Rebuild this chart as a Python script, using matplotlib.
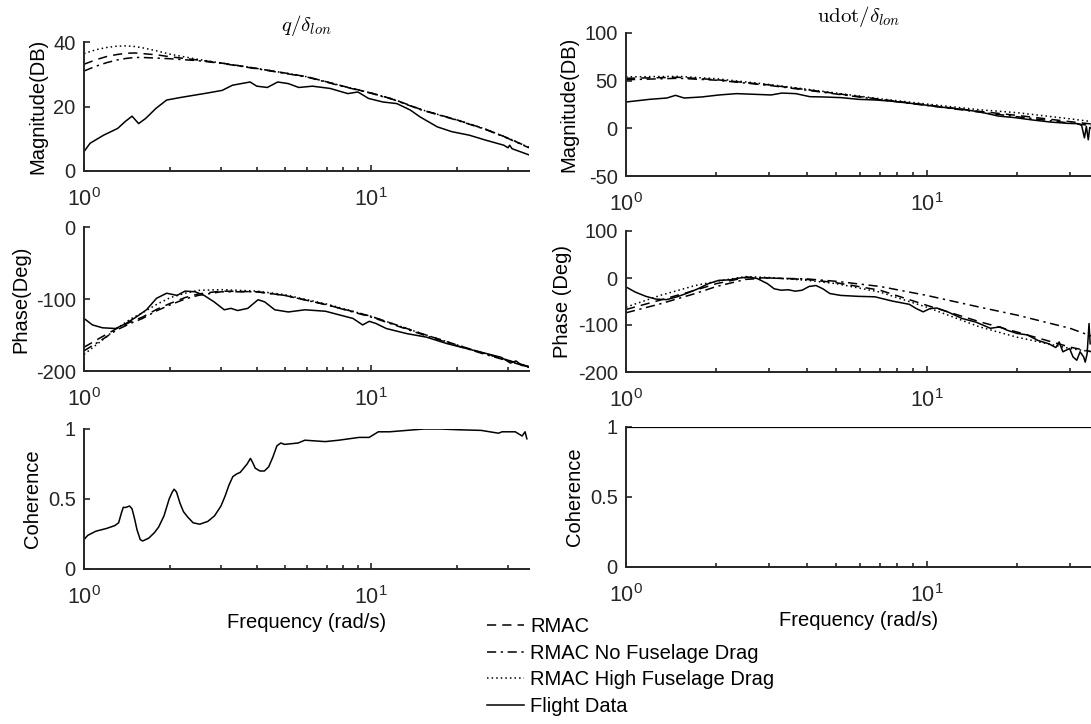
import numpy as np
import matplotlib
matplotlib.use('Agg')
import matplotlib.pyplot as plt
from matplotlib.lines import Line2D
from matplotlib.ticker import FuncFormatter

plt.rcParams['font.family'] = ['Liberation Sans', 'DejaVu Sans']
plt.rcParams['mathtext.fontset'] = 'cm'
plt.rcParams['axes.unicode_minus'] = False
plt.rcParams['font.size'] = 14.5

# ---------------- q / delta_lon ----------------
# model curves (magnitude, dB)
q_mag_f = [1, 1.1, 1.2, 1.3, 1.4, 1.5, 1.6, 1.8, 2, 2.5, 3, 4, 5, 6, 8, 10, 12, 15, 20, 25, 30, 35.5]
q_mag_rmac = [33.1, 34.5, 35.5, 36.1, 36.5, 36.6, 36.4, 36.0, 35.4, 34.4, 33.5, 31.8, 30.4, 29.2, 26.3, 24.2, 22.2, 19.0, 15.8, 13.0, 10.2, 7.3]
q_mag_nofus = [31.0, 32.5, 33.6, 34.4, 34.9, 35.2, 35.2, 35.0, 34.8, 34.2, 33.4, 31.7, 30.3, 29.1, 26.2, 24.1, 22.1, 18.9, 15.7, 12.9, 10.1, 7.2]
q_mag_hifus = [36.4, 37.6, 38.3, 38.7, 38.8, 38.6, 38.2, 37.2, 36.2, 34.6, 33.5, 31.8, 30.4, 29.2, 26.3, 24.2, 22.2, 19.0, 15.8, 13.0, 10.2, 7.3]
# flight data magnitude
q_fd_mag_f = [1.0, 1.05, 1.17, 1.31, 1.39, 1.47, 1.55, 1.64, 1.78, 1.94, 2.17, 2.42, 2.7, 3.03, 3.29, 3.79,
              4.0, 4.35, 4.73, 5.15, 5.6, 6.25, 7.2, 8.3, 9.0, 9.8, 11, 12.3, 13.7, 14.8, 17, 19.1, 22, 25,
              29, 30, 30.4, 31, 35.5]
q_fd_mag = [6, 8.6, 11.1, 13.2, 15.3, 17, 14.7, 16.3, 19.4, 22, 22.8, 23.5, 24.2, 25, 26.6, 27.6,
            26.3, 25.9, 27.6, 27.1, 25.9, 26.3, 25.6, 24, 24.5, 22.5, 21.4, 20.9, 18.9, 16.8, 13.7, 12.2, 11.1, 9.6,
            8.0, 7.2, 8.0, 6.9, 5.0]

# model curves (phase, deg)
q_ph_f = [1, 1.15, 1.3, 1.45, 1.6, 1.8, 2, 2.25, 2.5, 3, 4, 5, 7, 10, 15, 20, 25, 30, 35.5]
q_ph_rmac = [-167, -153, -141, -132, -125, -114, -106, -98, -93, -89, -90, -95, -108, -124, -148, -164, -176, -185, -194]
q_ph_nofus = [-172, -157, -143, -134, -127, -116, -108, -100, -95, -90, -90, -95, -108, -125, -149, -165, -177, -186, -195]
q_ph_hifus = [-177, -158, -141, -128, -119, -107, -98, -92, -88, -87, -89, -94, -107, -124, -148, -164, -176, -185, -194]
# flight data phase
q_fd_ph_f = [1.0, 1.07, 1.16, 1.29, 1.40, 1.52, 1.65, 1.79, 1.94, 2.11, 2.25, 2.44, 2.62, 2.84, 3.08, 3.25,
             3.43, 3.72, 4.04, 4.26, 4.62, 5.15, 5.89, 6.94, 7.74, 8.65, 9.35, 9.86, 10.4, 11.3, 13.3, 15.6,
             18.4, 21.6, 24.8, 28.4, 29.5, 30.6, 32.0, 33.4, 35.2]
q_fd_ph = [-127, -136, -140, -141, -134, -125, -115, -99, -92, -95, -89, -90, -95, -104, -115, -113,
           -116, -113, -101, -104, -115, -118, -115, -117, -122, -127, -136, -131, -134, -141, -148, -153,
           -162, -169, -175, -181, -185, -189, -186, -192, -194]

# coherence
q_coh_f = [1.0, 1.03, 1.1, 1.2, 1.28, 1.32, 1.35, 1.37, 1.40, 1.44, 1.47, 1.50, 1.53, 1.57, 1.6, 1.68,
           1.76, 1.82, 1.9, 1.98, 2.03, 2.06, 2.10, 2.16, 2.22, 2.3, 2.4, 2.53, 2.7, 2.85, 3.0, 3.1,
           3.2, 3.3, 3.41, 3.5, 3.6, 3.7, 3.8, 3.87, 3.95, 4.1, 4.25, 4.4, 4.55, 4.7, 4.85, 5.0,
           5.571, 5.884, 6.924, 7.721, 9.089, 9.846, 10.6, 11.6, 13.3, 15.3, 17.5, 19.9, 24.2, 27.8, 28.6,
           31.8, 33.6, 34.4, 34.9]
q_coh = [0.21, 0.24, 0.27, 0.29, 0.31, 0.33, 0.40, 0.44, 0.44, 0.45, 0.43, 0.36, 0.28, 0.21, 0.20, 0.22,
         0.26, 0.30, 0.38, 0.50, 0.55, 0.57, 0.55, 0.47, 0.41, 0.37, 0.33, 0.32, 0.34, 0.38, 0.45, 0.52,
         0.60, 0.66, 0.68, 0.69, 0.72, 0.75, 0.79, 0.76, 0.72, 0.70, 0.70, 0.73, 0.80, 0.88, 0.90, 0.89,
         0.90, 0.92, 0.91, 0.92, 0.94, 0.94, 0.98, 0.98, 0.99, 1.0, 1.0, 0.995, 0.99, 0.97, 0.98,
         0.98, 0.95, 0.98, 0.93]

# ---------------- udot / delta_lon ----------------
u_mag_f = [1, 1.5, 2, 3, 4, 5, 7, 10, 15, 20, 30, 35.5]
u_mag_rmac = [52.5, 53.5, 51, 45.5, 40.5, 36.5, 30.5, 24.5, 17.8, 13.6, 7.0, 4.5]
u_mag_nofus = [51, 52.5, 50.5, 45, 40, 36, 30, 24, 17, 12.2, 5.5, 2.8]
u_mag_hifus = [54, 54.5, 52, 46, 41, 37, 31, 25.5, 19.5, 16.4, 10, 7]
u_fd_mag_f = [1.0, 1.196, 1.367, 1.461, 1.561, 1.785, 2.04, 2.33, 2.67, 3.04, 3.30, 3.67, 4.09, 4.55, 5.20,
              5.94, 6.79, 7.76, 8.87, 10.1, 11.6, 13.2, 15.1, 17.3, 19.7, 22.6, 25.8, 29.5, 31.9, 32.8,
              33.5, 34.0, 34.5, 34.9, 35.3]
u_fd_mag = [27.6, 30.4, 31.8, 34.6, 31.8, 32.9, 35, 36.4, 35.7, 35, 37, 36.4, 33.2, 32.9, 32.2,
            30.4, 29.7, 28.3, 26.2, 24.1, 21.7, 19.9, 17.1, 12.9, 11.2, 8.7, 6.6, 5.2, 4.9, 3.0,
            -10, 2, -12, 1, 0]

u_ph_f = [1, 1.3, 1.7, 2, 2.5, 3, 4, 5, 7, 10, 15, 20, 30, 35.5]
u_ph_rmac = [-67, -47, -26, -12, 1, 0, -3, -10, -26, -58, -93, -115, -147, -157]
u_ph_nofus = [-74, -55, -33, -18, -3, 0, -2, -7, -18, -37, -62, -79, -107, -124]
u_ph_hifus = [-62, -37, -16, -7, 3, 1, -5, -12, -30, -62, -104, -126, -150, -157]
u_fd_ph_f = [1.0, 1.074, 1.164, 1.260, 1.365, 1.479, 1.602, 1.735, 1.880, 2.036, 2.206, 2.389, 2.551,
             2.729, 2.954, 3.112, 3.285, 3.463, 3.656, 3.854, 4.064, 4.286, 4.519, 4.764, 5.171, 5.898,
             6.730, 7.678, 8.759, 9.236, 9.739, 10.27, 10.83, 11.75, 13.11, 14.61, 16.30, 17.56, 18.51,
             20.0, 21.6, 23.5, 25.5, 26.9, 27.6, 28.4, 29.9, 30.7, 31.6, 32.4, 33.3, 33.7, 34.2, 34.7, 35.0]
u_fd_ph = [-19, -30, -39, -45, -46, -40, -32, -23, -12, -5, -4, 0, 2,
           -1, -12, -23, -26, -25, -28, -26, -18, -16, -23, -33, -37, -39,
           -40, -49, -56, -65, -72, -65, -64, -72, -86, -94, -107, -104, -111,
           -118, -121, -133, -140, -148, -136, -157, -150, -168, -175, -157, -168, -179, -161, -97, -140]

u_coh_f = [1.0, 35.5]
u_coh = [1.0, 1.0]

labels = ['RMAC', 'RMAC No Fuselage Drag', 'RMAC High Fuselage Drag', 'Flight Data']

# line styles
ls_rmac = (0, (6, 4))
ls_nofus = (0, (6, 3, 1.5, 3))
ls_hifus = (0, (1, 2))
lw = 1.1
col = 'black'
axcol = '#262626'

W, H = 1091, 724
fig = plt.figure(figsize=(W / 100, H / 100), dpi=100)


def make_ax(x0, x1, top, bottom):
    return fig.add_axes([x0 / W, 1 - bottom / H, (x1 - x0) / W, (bottom - top) / H])


def style(ax, ylim, yticks):
    ax.set_xscale('log')
    ax.set_xlim(1, 35.5)
    ax.set_ylim(*ylim)
    ax.set_yticks(yticks)
    ax.yaxis.set_major_formatter(FuncFormatter(lambda v, p: '%g' % v))
    for s in ['top', 'right']:
        ax.spines[s].set_visible(False)
    for s in ['left', 'bottom']:
        ax.spines[s].set_linewidth(1.4)
        ax.spines[s].set_color(axcol)
    ax.tick_params(which='both', direction='in', colors=axcol, labelsize=14.5, width=1.2)
    ax.tick_params(which='major', length=4, pad=6)
    ax.tick_params(which='minor', length=3)
    ax.tick_params(axis='x', which='major', labelsize=15.5, pad=12)
    ax.tick_params(axis='y', which='minor', left=False)


def models(ax, f, a, b, c):
    ax.plot(f, a, color=col, lw=lw, linestyle=ls_rmac)
    ax.plot(f, b, color=col, lw=lw, linestyle=ls_nofus)
    ax.plot(f, c, color=col, lw=lw, linestyle=ls_hifus)


L0, L1 = 84, 529
R0, R1 = 626, 1092

# left column
ax = make_ax(L0, L1, 42, 171)
models(ax, q_mag_f, q_mag_rmac, q_mag_nofus, q_mag_hifus)
ax.plot(q_fd_mag_f, q_fd_mag, color=col, lw=lw)
style(ax, (0, 40), [0, 20, 40])
ax.set_ylabel('Magnitude(DB)', labelpad=4)
ax.set_title(r'$q/\delta_{lon}$', fontsize=15, pad=8)

ax = make_ax(L0, L1, 227, 371)
models(ax, q_ph_f, q_ph_rmac, q_ph_nofus, q_ph_hifus)
ax.plot(q_fd_ph_f, q_fd_ph, color=col, lw=lw)
style(ax, (-200, 0), [-200, -100, 0])
ax.set_ylabel('Phase(Deg)', labelpad=4)

ax = make_ax(L0, L1, 429, 569)
ax.plot(q_coh_f, q_coh, color=col, lw=lw)
style(ax, (0, 1), [0, 0.5, 1])
ax.set_ylabel('Coherence', labelpad=4)
ax.set_xlabel('Frequency (rad/s)', labelpad=3)

# right column
ax = make_ax(R0, R1, 33, 176)
models(ax, u_mag_f, u_mag_rmac, u_mag_nofus, u_mag_hifus)
ax.plot(u_fd_mag_f, u_fd_mag, color=col, lw=lw)
style(ax, (-50, 100), [-50, 0, 50, 100])
ax.set_ylabel('Magnitude(DB)', labelpad=4)
ax.set_title(r'$\mathrm{udot}/\delta_{lon}$', fontsize=15, pad=8)

ax = make_ax(R0, R1, 231, 372)
models(ax, u_ph_f, u_ph_rmac, u_ph_nofus, u_ph_hifus)
ax.plot(u_fd_ph_f, u_fd_ph, color=col, lw=lw)
style(ax, (-200, 100), [-200, -100, 0, 100])
ax.set_ylabel('Phase (Deg)', labelpad=4)

ax = make_ax(R0, R1, 427, 567)
ax.plot(u_coh_f, u_coh, color=col, lw=1.6)
style(ax, (0, 1), [0, 0.5, 1])
ax.set_ylabel('Coherence', labelpad=4)
ax.set_xlabel('Frequency (rad/s)', labelpad=3)

# legend
handles = [Line2D([], [], color=col, lw=lw, linestyle=ls_rmac),
           Line2D([], [], color=col, lw=lw, linestyle=ls_nofus),
           Line2D([], [], color=col, lw=lw, linestyle=ls_hifus),
           Line2D([], [], color=col, lw=lw)]
fig.legend(handles, labels, loc='upper left', bbox_to_anchor=(487 / W, 1 - 617 / H),
           frameon=False, handlelength=1.85, handletextpad=0.3, labelspacing=0.38,
           borderpad=0, borderaxespad=0, fontsize=14.5)

fig.savefig('out.png', dpi=100)
